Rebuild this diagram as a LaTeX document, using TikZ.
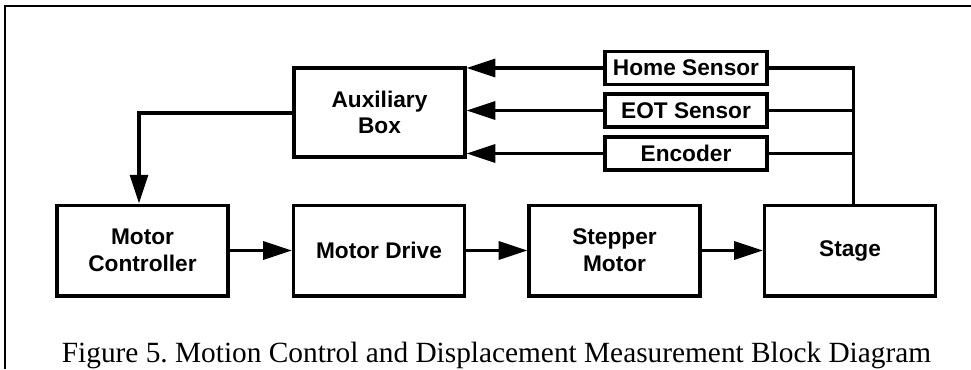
\documentclass[tikz,border=0pt]{standalone}
\usepackage{fontspec}
\setmainfont{Liberation Serif}
\newfontfamily\blocksans{Liberation Sans}
\usetikzlibrary{arrows.meta}
\frenchspacing
\tikzset{
  blk/.style={draw, line width=2.5pt, minimum width=#1, align=center,
    font=\blocksans\fontsize{17}{20}\selectfont\bfseries, inner sep=0pt},
  bigblk/.style={blk=128.25pt, minimum height=68pt},
  sensorblk/.style={blk=121.5pt, minimum height=24.75pt},
  wire/.style={line width=2.4pt},
  flow/.style={wire, -{Triangle[length=21.5pt, width=13.5pt]}},
  frameline/.style={line width=1.8pt}
}
\begin{document}
\begin{tikzpicture}[x=0.75pt, y=-0.75pt]
  \useasboundingbox (0,0) rectangle (971,369);

  % open frame: top and left rules
  \draw[frameline] (971,6) -- (5,6) -- (5,369);

  % main signal chain
  \node[bigblk] (ctrl)  at (142.5,250.5) {Motor\\Controller};
  \node[bigblk] (drive) at (379,250.5)   {Motor Drive};
  \node[bigblk] (motor) at (614.5,250.5) {Stepper\\Motor};
  \node[bigblk] (stage) at (850,250.5)   {Stage};

  % auxiliary box and sensors
  \node[blk=128.25pt, minimum height=66.75pt] (aux) at (379.5,112.5) {Auxiliary\\Box};
  \node[sensorblk] (home) at (686,68)    {Home Sensor};
  \node[sensorblk] (eot)  at (686,110.5) {EOT Sensor};
  \node[sensorblk] (enc)  at (686,153.5) {Encoder};

  \draw[flow] (ctrl)  -- (drive);
  \draw[flow] (drive) -- (motor);
  \draw[flow] (motor) -- (stage);

  % sensor bus rising from the stage
  \coordinate (bus) at (853.5,68);
  \draw[wire] (stage.north -| bus) -- (bus) -- (home.east);
  \draw[wire] (eot.east) -- (eot.east -| bus);
  \draw[wire] (enc.east) -- (enc.east -| bus);

  % sensor signals into the auxiliary box
  \draw[flow] (home.west) -- (home.west -| aux.east);
  \draw[flow] (eot.west)  -- (eot.west -| aux.east);
  \draw[flow] (enc.west)  -- (enc.west -| aux.east);

  % auxiliary box output to the controller
  \coordinate (drop) at (139,113);
  \draw[flow] (aux.west |- drop) -- (drop) -- (drop |- ctrl.north);

  % caption
  \node[anchor=base, inner sep=0pt, font=\fontsize{22}{24}\selectfont] (caption) at (496.5,362)
    {Figure 5. Motion Control and Displacement Measurement Block Diagram};
\end{tikzpicture}
\end{document}
